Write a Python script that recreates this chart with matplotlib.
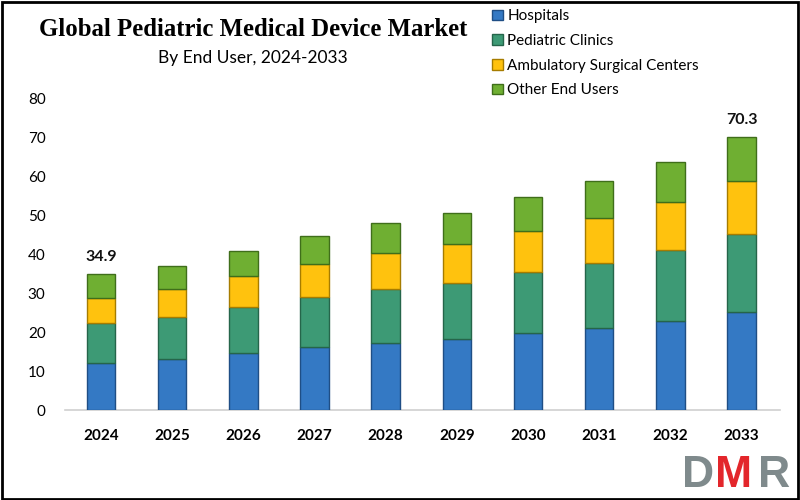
import matplotlib
matplotlib.use("Agg")
import matplotlib.pyplot as plt
from matplotlib.patches import Rectangle, Patch
import numpy as np

years = ["2024", "2025", "2026", "2027", "2028", "2029", "2030", "2031", "2032", "2033"]
hospitals = [12.2, 13.2, 14.6, 16.1, 17.3, 18.2, 19.7, 21.2, 23.0, 25.2]
clinics = [10.1, 10.8, 12.0, 12.9, 13.7, 14.4, 15.7, 16.7, 18.1, 20.2]
ambulatory = [6.6, 7.0, 7.8, 8.6, 9.3, 10.0, 10.7, 11.5, 12.4, 13.4]
others = [6.0, 6.1, 6.6, 7.2, 7.9, 8.1, 8.8, 9.5, 10.4, 11.5]
series_names = ["Hospitals", "Pediatric Clinics", "Ambulatory Surgical Centers", "Other End Users"]
annot_labels = {0: "34.9", 9: "70.3"}

colors = ["#3479C4", "#3D9A75", "#FFC20E", "#6FAF32"]
edges = ["#1F4E85", "#25654A", "#A67C00", "#3F6E1A"]

fig = plt.figure(figsize=(8, 5), dpi=100)
ax = fig.add_axes([0.08125, 0.18, 0.89375, 0.622])

x = np.arange(len(years))
bottom = np.zeros(len(years))
for vals, c, e, name in zip([hospitals, clinics, ambulatory, others], colors, edges, series_names):
    ax.bar(x, vals, width=0.4, bottom=bottom, color=c, edgecolor=e, linewidth=1.0, label=name, zorder=3)
    bottom += np.array(vals)

for i, lab in annot_labels.items():
    ax.text(x[i], bottom[i] + 2.6, lab, ha="center", va="bottom", fontsize=11.5,
            fontweight="bold", family="Lato", color="#111111")

ax.set_xlim(-0.506, 9.54)
ax.set_ylim(0, 80)
ax.set_yticks(range(0, 81, 10))
ax.set_xticks(x)
ax.set_xticklabels(years, fontweight="bold", fontsize=11, family="Lato")
for t in ax.get_yticklabels():
    t.set_family("Lato")
    t.set_fontsize(11)
ax.tick_params(axis="y", length=0, pad=14)
ax.tick_params(axis="x", length=0, pad=14)
for s in ["top", "right", "left"]:
    ax.spines[s].set_visible(False)
ax.spines["bottom"].set_color("#D0D0D0")
ax.spines["bottom"].set_linewidth(1.2)

fig.text(0.316, 0.94, "Global Pediatric Medical Device Market", ha="center", va="center",
         fontsize=17.8, fontweight="bold", family="Liberation Serif")
fig.text(0.316, 0.884, "By End User, 2024-2033", ha="center", va="center",
         fontsize=12.5, family="Lato")

handles = [Patch(facecolor=c, edgecolor=e) for c, e in zip(colors, edges)]
leg = fig.legend(handles, series_names, loc="upper left", bbox_to_anchor=(0.598, 1.009),
                 frameon=False, handlelength=0.7, handleheight=0.7, handletextpad=0.3,
                 labelspacing=0.7, prop={"family": "Lato", "size": 11})

# DMR logo
fig.text(0.852, 0.026, "D", color="#7F8A8C", fontsize=32, fontweight="bold", family="Liberation Sans",
         ha="left", va="baseline")
fig.text(0.894, 0.026, "M", color="#E3262B", fontsize=32, fontweight="bold", family="Liberation Sans",
         ha="left", va="baseline")
fig.text(0.948, 0.026, "R", color="#7F8A8C", fontsize=32, fontweight="bold", family="Liberation Sans",
         ha="left", va="baseline")

fig.patches.append(Rectangle((0.002, 0.003), 0.996, 0.994, transform=fig.transFigure,
                             fill=False, edgecolor="black", linewidth=2))

fig.savefig("out.png", dpi=100)
